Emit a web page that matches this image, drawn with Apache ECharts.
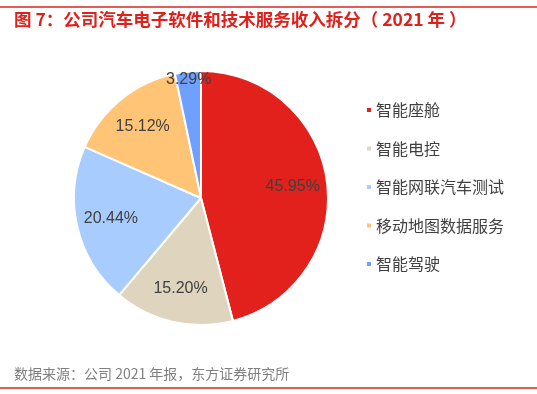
<!DOCTYPE html>
<html><head><meta charset="utf-8">
<script src="https://cdn.jsdelivr.net/npm/echarts@6/dist/echarts.min.js"></script>
<style>html,body{margin:0;padding:0;background:#fff}#c{width:537px;height:394px}</style>
</head><body><div id="c"></div>
<script>
const categories = ['智能座舱','智能电控','智能网联汽车测试','移动地图数据服务','智能驾驶'];
const values = [45.95, 15.20, 20.44, 15.12, 3.29];
const colors = ['#E2211C','#DFD5BE','#A9CCFF','#FFC475','#6FA0FF'];
const titleText = '图 7：公司汽车电子软件和技术服务收入拆分（ 2021 年 ）';
const sourceText = '数据来源：公司 2021 年报，东方证券研究所';
// which labels sit near the rim (outer ring) instead of mid-radius
const outerLabel = [false, false, false, false, true];

const chart = echarts.init(document.getElementById('c'));
const data = categories.map((n,i)=>({name:n, value:values[i], itemStyle:{color:colors[i]}}));
const labelBase = {position:'inside', formatter:p=>p.value.toFixed(2)+'%', fontSize:16, color:'#404040', fontFamily:'"Liberation Sans", Arial, sans-serif'};
function labelSeries(r, outer){
  return {type:'pie', center:[201,198], radius:r, startAngle:90, clockwise:true, silent:true,
    legendHoverLink:false,
    itemStyle:{color:'rgba(0,0,0,0)', borderWidth:0},
    label:Object.assign({show:true}, labelBase),
    labelLine:{show:false},
    data:categories.map((n,i)=>({name:n+(outer?'  ':' '), value:values[i], label:{show:outerLabel[i]===outer}}))};
}
chart.setOption({
  animation:false,
  color: colors,
  graphic:[
    {type:'line', shape:{x1:0,y1:7,x2:537,y2:7}, style:{stroke:'#D9261C', lineWidth:1.5}},
    {type:'text', left:14, top:11, style:{text:titleText, fill:'#E0201B', font:'bold 17.5px "Noto Sans CJK SC", sans-serif'}},
    {type:'text', left:14, top:367, style:{text:sourceText, fill:'#7F7F7F', font:'14px "Noto Sans CJK SC", sans-serif'}},
    {type:'line', shape:{x1:0,y1:388,x2:537,y2:388}, style:{stroke:'#D9261C', lineWidth:1.5}}
  ],
  legend:{
    orient:'vertical', left:360, top:97, itemWidth:6, itemHeight:6, itemGap:22.5, icon:'rect',
    textStyle:{fontSize:16, color:'#404040', fontFamily:'"Noto Sans CJK SC", sans-serif', padding:[0,0,0,-1]},
    data: categories
  },
  series:[
    {type:'pie', center:[201,198], radius:[0,127], startAngle:90, clockwise:true,
     itemStyle:{borderColor:'#fff', borderWidth:2}, label:{show:false}, labelLine:{show:false},
     data:data},
    labelSeries([52,127], false),
    labelSeries([106,127], true)
  ]
});
</script></body></html>
